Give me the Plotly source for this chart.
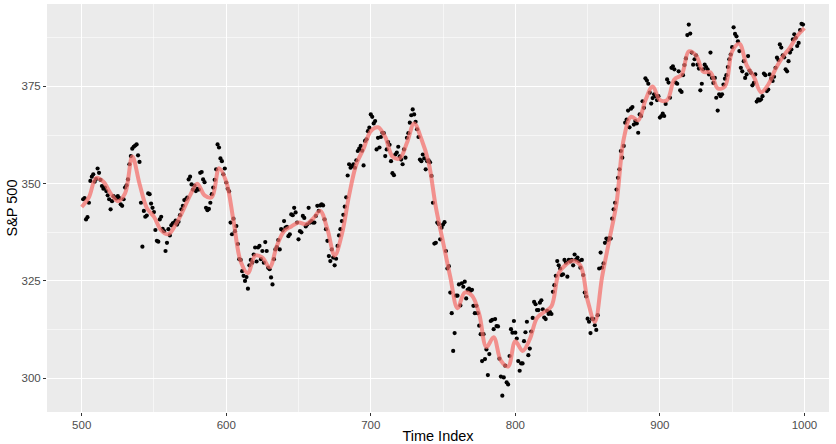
import plotly.graph_objects as go

start_index = 501
sp500 = [
    346.0, 346.3, 340.8, 341.4, 345.1, 350.7, 351.8, 352.4, 350.5, 351.2,
    353.9, 352.8, 351.0, 349.4, 348.7, 349.0, 348.1, 347.0, 346.0, 343.4,
    345.5, 346.8, 346.5, 346.2, 346.8, 346.3, 344.7, 344.3, 346.0, 349.0,
    349.6, 351.1, 355.0, 357.1, 359.0, 359.5, 359.8, 360.1, 357.3, 355.6,
    345.1, 333.8, 343.0, 341.5, 341.8, 347.5, 347.3, 344.9, 343.8, 342.7,
    338.1, 335.3, 335.1, 340.8, 341.5, 338.4, 337.8, 332.7, 334.8, 338.3,
    336.7, 339.3, 339.8, 340.0, 340.5, 339.5, 340.2, 341.9, 343.4, 344.3,
    345.8, 346.0, 346.4, 351.1, 351.8, 349.8, 348.5, 349.5, 348.1, 348.7,
    348.5, 352.8, 353.0, 351.1, 350.4, 343.8, 343.2, 343.5, 345.1, 347.3,
    349.0, 351.0, 353.7, 360.1, 359.3, 356.5, 355.8, 352.4, 353.9, 350.3,
    348.7, 348.0, 340.0, 337.0, 341.0, 337.8, 339.1, 334.5, 330.6, 330.4,
    327.5, 326.3, 325.0, 326.0, 323.0, 329.0, 330.4, 329.7, 331.8, 333.6,
    330.0, 333.6, 334.0, 330.6, 332.7, 329.7, 335.0, 332.7, 328.4, 328.0,
    325.9, 324.1, 330.6, 333.1, 333.7, 335.5, 333.1, 338.3, 338.0, 340.4,
    338.7, 338.9, 336.5, 337.0, 342.1, 341.9, 343.8, 342.6, 340.0, 335.7,
    337.8, 337.5, 341.7, 341.2, 339.0, 339.5, 343.8, 340.0, 340.4, 340.0,
    340.0, 341.7, 344.3, 343.0, 344.4, 344.7, 344.4, 340.8, 338.3, 335.3,
    331.4, 330.1, 333.1, 331.0, 329.0, 330.7, 334.0, 336.7, 338.3, 340.4,
    342.0, 344.1, 346.5, 352.1, 355.0, 354.1, 354.5, 355.0, 354.1, 356.0,
    358.4, 359.0, 359.7, 358.5, 354.7, 361.0, 361.4, 363.5, 364.4, 367.8,
    367.2, 365.5, 366.1, 358.8, 361.8, 359.3, 362.0, 363.1, 363.0, 357.1,
    358.8, 360.7, 360.0, 355.8, 352.7, 352.2, 357.5, 358.0, 359.5, 357.0,
    356.2, 355.0, 358.8, 356.7, 361.8, 363.0, 365.7, 367.6, 369.1, 367.8,
    365.9, 364.0, 362.0, 356.2, 355.8, 357.5, 356.5, 353.7, 355.8, 356.0,
    355.5, 352.0, 345.1, 334.6, 334.8, 340.0, 339.6, 335.7, 338.7, 339.5,
    340.1, 332.7, 328.2, 328.8, 322.0, 316.7, 307.0, 311.6, 321.2, 321.2,
    324.1, 318.7, 324.4, 323.5, 324.8, 320.5, 322.7, 323.0, 322.5, 322.7,
    318.6, 316.7, 318.6, 316.7, 313.5, 311.3, 304.4, 311.3, 304.9, 307.4,
    300.8, 306.2, 314.7, 315.0, 312.6, 315.2, 313.4, 313.3, 305.0, 300.4,
    295.5, 300.2, 303.2, 298.9, 298.4, 305.7, 312.6, 311.7, 314.7, 311.7,
    310.2, 304.4, 301.9, 303.8, 303.8, 309.5, 311.8, 314.5, 305.9, 307.6,
    312.0, 315.5, 319.6, 319.0, 317.5, 317.5, 319.4, 320.0, 317.7, 315.6,
    315.2, 317.3, 316.5, 317.0, 316.5, 322.2, 323.9, 326.3, 330.1, 329.0,
    328.2, 326.5, 326.7, 330.4, 329.7, 326.1, 330.4, 330.0, 330.4, 329.0,
    331.8, 330.5, 331.0, 330.1, 328.4, 330.4, 326.5, 322.0, 321.0, 315.3,
    314.5, 311.6, 315.3, 315.2, 313.6, 312.4, 316.2, 328.2, 332.3, 328.4,
    329.5, 334.8, 335.9, 335.5, 336.0, 335.9, 341.0, 343.4, 345.1, 348.5,
    351.5, 353.7, 358.4, 356.7, 359.7, 365.7, 366.5, 368.8, 364.5, 369.3,
    369.7, 365.2, 366.1, 365.5, 363.1, 367.8, 367.4, 371.2, 369.5, 377.1,
    376.5, 375.7, 373.4, 370.6, 372.0, 373.0, 372.5, 371.5, 372.5, 367.0,
    367.4, 368.0, 367.4, 370.5, 376.8, 376.0, 372.1, 379.8, 380.2, 379.4,
    376.0, 375.7, 378.9, 374.0, 373.6, 377.9, 380.5, 382.2, 388.2, 390.9,
    388.6, 383.7, 380.6, 382.0, 383.0, 380.6, 379.6, 374.0, 375.7, 379.4,
    380.6, 380.0, 379.4, 378.1, 383.7, 377.2, 375.9, 377.2, 372.1, 368.8,
    373.0, 372.5, 373.0, 375.5, 377.0, 377.9, 380.0, 382.0, 383.2, 385.1,
    390.2, 388.5, 387.9, 386.6, 384.1, 379.8, 378.9, 381.5, 377.2, 378.1,
    382.8, 379.1, 378.5, 375.3, 375.9, 378.1, 371.1, 371.7, 371.4, 371.7,
    372.5, 378.3, 377.9, 373.8, 374.2, 378.1, 377.0, 376.4, 377.5, 379.8,
    382.4, 381.8, 385.8, 385.0, 383.0, 382.5, 379.4, 378.9, 381.5, 383.7,
    384.5, 387.1, 388.4, 387.5, 385.4, 386.2, 389.5, 391.1, 390.9,
]
time_index = list(range(start_index, start_index + len(sp500)))

smooth_index = list(range(500, 1001, 5))
smooth_values = [
    344.0, 346.5, 351.5, 350.5, 347.5, 345.5, 347.5, 357.0, 350.0, 343.8,
    341.5, 338.0, 337.0, 339.5, 343.0, 347.0, 350.0, 347.0, 346.5, 354.0,
    350.5, 340.5, 330.0, 327.0, 331.5, 331.0, 328.5, 334.0, 337.8, 339.0,
    340.0, 339.6, 341.0, 343.0, 338.3, 331.5, 337.0, 347.0, 355.0, 359.0,
    363.5, 364.5, 362.0, 357.0, 356.5, 360.5, 365.5, 361.5, 355.5, 344.0,
    335.0, 326.0, 318.0, 322.0, 321.2, 316.5, 308.0, 310.5, 304.5, 303.0,
    309.5, 307.0, 310.0, 315.5, 317.0, 318.5, 327.0, 329.2, 330.2, 329.0,
    320.0, 314.5, 326.0, 335.5, 345.0, 361.5, 367.2, 366.3, 371.5, 375.0,
    371.5, 371.5, 376.8, 378.0, 384.0, 383.0, 378.8, 378.6, 374.5, 375.0,
    384.0, 386.0, 380.5, 377.5, 373.5, 375.5, 379.5, 382.6, 385.0, 388.0,
    390.0,
]

x_ticks = [500, 600, 700, 800, 900, 1000]
y_ticks = [300, 325, 350, 375]
FONT = "Liberation Sans, Arial, sans-serif"

fig = go.Figure()
fig.add_trace(go.Scatter(
    x=time_index, y=sp500, mode="markers",
    marker=dict(color="black", size=4.2),
    showlegend=False, hoverinfo="x+y",
))
fig.add_trace(go.Scatter(
    x=smooth_index, y=smooth_values, mode="lines",
    line=dict(color="rgb(245,110,105)", width=4, shape="spline", smoothing=1.0),
    opacity=0.72, showlegend=False, hoverinfo="skip",
))

axis_common = dict(
    showgrid=True, gridcolor="white", gridwidth=1.1,
    zeroline=False, showline=False, automargin=False,
    ticks="outside", ticklen=3, tickcolor="#333333", tickwidth=1,
    tickfont=dict(family=FONT, size=11.5, color="#4D4D4D"),
)

fig.update_xaxes(
    range=[476, 1017], tickvals=x_ticks, ticklabelstandoff=-1,
    title=dict(text="Time Index", font=dict(family=FONT, size=14.5, color="black"), standoff=6),
    minor=dict(showgrid=True, gridcolor="rgba(255,255,255,0.55)", gridwidth=0.6,
               tickvals=[550, 650, 750, 850, 950], ticks=""),
    **axis_common,
)
fig.update_yaxes(
    range=[291.3, 396.2], tickvals=y_ticks,
    title=dict(text="S&P 500", font=dict(family=FONT, size=14.5, color="black"), standoff=0),
    minor=dict(showgrid=True, gridcolor="rgba(255,255,255,0.55)", gridwidth=0.6,
               tickvals=[312.5, 337.5, 362.5, 387.5], ticks=""),
    **axis_common,
)

fig.update_layout(
    width=836, height=444,
    margin=dict(l=47, r=7, t=4, b=32),
    plot_bgcolor="#EBEBEB", paper_bgcolor="white",
    font=dict(family=FONT),
)

fig.write_html(
    "out.html",
    config={"displayModeBar": False},
    post_script="document.documentElement.style.margin='0';document.body.style.margin='0';document.body.style.overflow='hidden';",
)
